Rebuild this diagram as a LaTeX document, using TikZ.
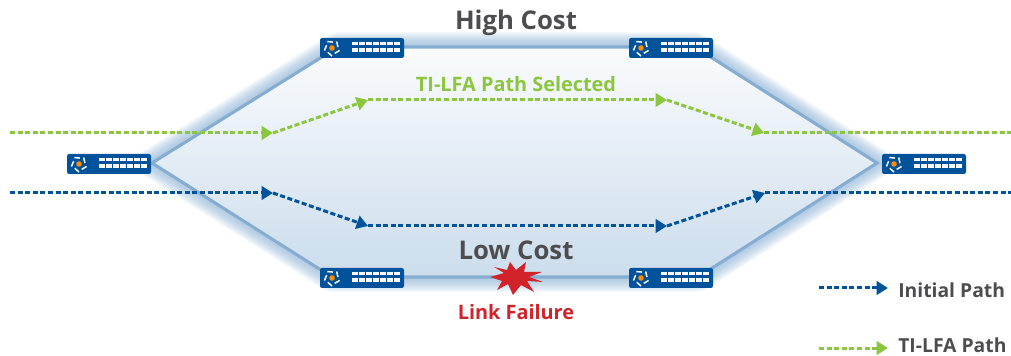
\documentclass[tikz,border=0pt]{standalone}
\usepackage{fontspec}
\setmainfont{Open Sans}
\usepackage{tikz}
\usetikzlibrary{arrows.meta, positioning, calc}
\definecolor{pathblue}{HTML}{00539B}
\definecolor{pathgreen}{HTML}{8CC63F}
\definecolor{edgeblue}{HTML}{85ADD2}
\definecolor{labelgray}{HTML}{4D4D4F}
\definecolor{failred}{HTML}{D2232A}
\tikzset{
	switchbox/.style={fill=pathblue, rounded corners=1.6pt, minimum width=63pt, minimum height=15pt, inner sep=0pt},
	bluepath/.style={draw=pathblue, line width=2.25pt, dash pattern=on 3.8pt off 1.9pt},
	greenpath/.style={draw=pathgreen, line width=2.25pt, dash pattern=on 3.8pt off 1.9pt},
	bluetip/.style={bluepath, -{Triangle[length=8.5pt, width=10pt, fill=pathblue]}},
	greentip/.style={greenpath, -{Triangle[length=8.5pt, width=10pt, fill=pathgreen]}},
	bigtext/.style={font=\fontsize{19.3pt}{21pt}\selectfont\bfseries, text=labelgray},
	midtext/.style={font=\fontsize{14.9pt}{17pt}\selectfont\bfseries},
	legendtext/.style={font=\fontsize{14.5pt}{16pt}\selectfont\bfseries, text=labelgray, anchor=west, inner sep=0pt},
}
% one switch with its ports and its logo
\newcommand{\switchnode}[3]{
	\node[switchbox] (#1) at (#2,#3) {};
	\foreach \col in {0,...,6} {
		\foreach \row in {0,1} {
			\fill[white] ($(#1.center)+(-10+\col*7,-6+\row*6.3)$) rectangle ++(5.6,3.3);
		}
	}
	\foreach \ang in {0,72,...,288} {
		\draw[white, line width=1.1pt] ($(#1.center)+(-30,0)+(\ang+90:8)$) -- ($(#1.center)+(-30,0)+(\ang+135:6)$);
	}
	\fill[orange!90!yellow] ($(#1.center)+(-30,0)$) circle (2.8);
}

\begin{document}
\begin{tikzpicture}[x=0.75pt, y=-0.75pt]
	\useasboundingbox (0,0) rectangle (1011,356);
	\coordinate (hexw) at (152,163);
	\coordinate (hexnw) at (338,47);
	\coordinate (hexne) at (695,47);
	\coordinate (hexe) at (877,163);
	\coordinate (hexse) at (698,277);
	\coordinate (hexsw) at (332,277);
	% soft glow round the hexagon
	\foreach \w in {2,4,...,30} {
		\draw[edgeblue, opacity=0.07, line width=\w*0.75pt, line join=round] (hexw) -- (hexnw) -- (hexne) -- (hexe) -- (hexse) -- (hexsw) -- cycle;
	}
	\shade[top color=white!96!edgeblue, bottom color=edgeblue!42!white] (hexw) -- (hexnw) -- (hexne) -- (hexe) -- (hexse) -- (hexsw) -- cycle;
	\draw[edgeblue, line width=2.3pt, line join=miter] (hexw) -- (hexnw) -- (hexne) -- (hexe) -- (hexse) -- (hexsw) -- cycle;

	\switchnode{swleft}{109}{164}
	\switchnode{swright}{924}{164}
	\switchnode{swtopa}{362}{48}
	\switchnode{swtopb}{671}{48}
	\switchnode{swbota}{362}{278}
	\switchnode{swbotb}{671}{278}

	\coordinate (gstart) at (10,133);
	\coordinate (ga) at (273,133);
	\coordinate (gb) at (368,100);
	\coordinate (gc) at (667,100);
	\coordinate (gd) at (764,133);
	\coordinate (gend) at (1011,133);
	\draw[greentip] (gstart) -- (ga);
	\draw[greentip] (ga) -- (gb);
	\draw[greentip] (gb) -- (gc);
	\draw[greentip] (gc) -- (gd);
	\draw[greenpath] (gd) -- (gend);

	\coordinate (bstart) at (10,193);
	\coordinate (ba) at (273,193);
	\coordinate (bb) at (368,226);
	\coordinate (bc) at (667,226);
	\coordinate (bd) at (765,193);
	\coordinate (bend) at (1011,193);
	\draw[bluetip] (bstart) -- (ba);
	\draw[bluetip] (ba) -- (bb);
	\draw[bluetip] (bb) -- (bc);
	\draw[bluetip] (bc) -- (bd);
	\draw[bluepath] (bd) -- (bend);

	% the burst on the low cost link
	\fill[failred] (510,262) -- (516,270) -- (526,262) -- (524,272) -- (542,272) -- (529,277) -- (543,282) -- (527,281) -- (534,292) -- (521,285) -- (513,295) -- (508,284) -- (497,290) -- (502,281) -- (490,277) -- (504,273) -- (494,267) -- (507,270) -- cycle;

	\node[bigtext] (highcost) at (516,23) {High Cost};
	\node[midtext, text=pathgreen] (selected) at (516,84) {TI-LFA Path Selected};
	\node[bigtext] (lowcost) at (516,250) {Low Cost};
	\node[midtext, text=failred] (failure) at (516,312) {Link Failure};

	\coordinate (lega) at (819,288);
	\coordinate (legb) at (888,288);
	\coordinate (legc) at (819,348);
	\coordinate (legd) at (888,348);
	\draw[bluetip] (lega) -- (legb);
	\draw[greentip] (legc) -- (legd);
	\node[legendtext] (initial) at (898,290) {Initial Path};
	\node[legendtext] (tilfa) at (898,345) {TI-LFA Path};
\end{tikzpicture}
\end{document}
